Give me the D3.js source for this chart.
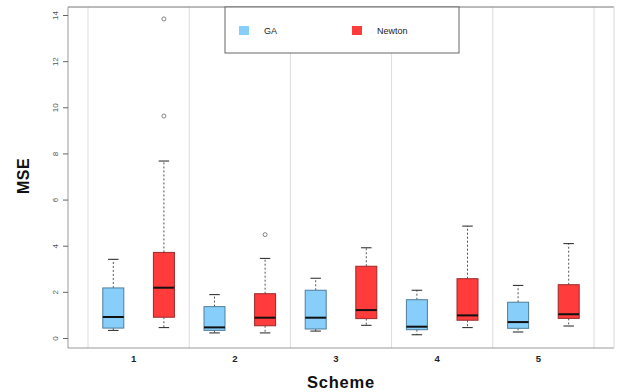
<!DOCTYPE html>
<html>
<head>
<meta charset="utf-8">
<script src="https://cdn.jsdelivr.net/npm/d3@7"></script>
<style>
  html, body { margin: 0; padding: 0; background: #fff; }
  svg { display: block; font-family: "Liberation Sans", Arial, sans-serif; }
</style>
</head>
<body>
<svg id="chart" width="622" height="392"></svg>
<script>
// Schemes on the x axis and the two fitting methods
const schemes = ["1", "2", "3", "4", "5"];
const methods = ["GA", "Newton"];
const methodColors = ["#87CEFA", "#FF3B3B"];
const yTicks = [0, 2, 4, 6, 8, 10, 12, 14];

// Box statistics per scheme: [lower whisker, Q1, median, Q3, upper whisker]
const gaStats = [
  [0.33, 0.43, 0.91, 2.17, 3.41],
  [0.22, 0.33, 0.46, 1.36, 1.88],
  [0.30, 0.39, 0.88, 2.07, 2.59],
  [0.14, 0.36, 0.49, 1.66, 2.07],
  [0.26, 0.42, 0.69, 1.55, 2.28]
];
const newtonStats = [
  [0.45, 0.90, 2.18, 3.71, 7.67],
  [0.22, 0.53, 0.88, 1.92, 3.45],
  [0.55, 0.84, 1.21, 3.11, 3.91],
  [0.45, 0.77, 0.98, 2.57, 4.85],
  [0.52, 0.85, 1.03, 2.31, 4.09]
];
// Outlying points per scheme
const gaOutliers = [[], [], [], [], []];
const newtonOutliers = [[13.83, 9.62], [4.48], [], [], []];

const statsByMethod = { GA: gaStats, Newton: newtonStats };
const outliersByMethod = { GA: gaOutliers, Newton: newtonOutliers };

const svg = d3.select("#chart");
const frame = { left: 68, right: 614, top: 7, bottom: 348 };

const x = d3.scaleBand().domain(schemes).range([88, 594]).padding(0);
const xSub = d3.scaleBand().domain(methods).range([0, x.bandwidth()]).padding(0);
const y = d3.scaleLinear().domain([0, 14]).range([338, 15]);
const color = d3.scaleOrdinal().domain(methods).range(methodColors);
const boxW = 21;

// Scheme separators
svg.append("g").selectAll("line")
  .data(schemes.concat(["end"]))
  .join("line")
  .attr("x1", (d, i) => i < schemes.length ? x(d) : x(schemes[schemes.length - 1]) + x.bandwidth())
  .attr("x2", (d, i) => i < schemes.length ? x(d) : x(schemes[schemes.length - 1]) + x.bandwidth())
  .attr("y1", frame.top).attr("y2", frame.bottom)
  .attr("stroke", "#dcdcdc").attr("stroke-width", 1);

// Plot frame
svg.append("line").attr("x1", frame.left).attr("x2", frame.right)
  .attr("y1", frame.top).attr("y2", frame.top).attr("stroke", "#777");
svg.append("line").attr("x1", frame.left).attr("x2", frame.right)
  .attr("y1", frame.bottom).attr("y2", frame.bottom).attr("stroke", "#999");
svg.append("line").attr("x1", frame.left).attr("x2", frame.left)
  .attr("y1", frame.top).attr("y2", frame.bottom).attr("stroke", "#999");
svg.append("line").attr("x1", frame.right).attr("x2", frame.right)
  .attr("y1", frame.top).attr("y2", frame.bottom).attr("stroke", "#d8d8d8");

// Y axis with rotated tick labels
const yAxis = svg.append("g")
  .attr("transform", `translate(${frame.left},0)`)
  .call(d3.axisLeft(y).tickValues(yTicks).tickSize(5).tickPadding(0).tickFormat(d3.format("d")));
yAxis.select(".domain").remove();
yAxis.selectAll(".tick line").attr("stroke", "#666");
yAxis.selectAll(".tick text")
  .attr("fill", "#555").attr("font-size", 8)
  .attr("text-anchor", "middle")
  .attr("dy", 0).attr("x", 0)
  .attr("transform", "translate(-13,0) rotate(-90)")
  .attr("dominant-baseline", "central");

// X axis labels
svg.append("g").selectAll("text")
  .data(schemes)
  .join("text")
  .attr("x", d => x(d) + x.bandwidth() / 2 - 5)
  .attr("y", 362)
  .attr("text-anchor", "middle")
  .attr("font-size", 9.5).attr("font-weight", "bold").attr("fill", "#222")
  .text(d => d);

// Axis titles
svg.append("text")
  .attr("x", 341).attr("y", 388)
  .attr("text-anchor", "middle")
  .attr("font-size", 16.5).attr("font-weight", "bold").attr("fill", "#111")
  .attr("letter-spacing", 0.8)
  .text("Scheme");
svg.append("text")
  .attr("transform", "translate(29,176) rotate(-90)")
  .attr("text-anchor", "middle")
  .attr("font-size", 16).attr("font-weight", "bold").attr("fill", "#111")
  .attr("letter-spacing", 0.5)
  .text("MSE");

// Boxes
const boxes = [];
schemes.forEach((s, i) => {
  methods.forEach(m => {
    const st = statsByMethod[m][i];
    boxes.push({
      scheme: s, method: m,
      lo: st[0], q1: st[1], med: st[2], q3: st[3], hi: st[4],
      outliers: outliersByMethod[m][i],
      cx: x(s) + xSub(m) + xSub.bandwidth() / 2
    });
  });
});

const g = svg.append("g").selectAll("g").data(boxes).join("g");

// Dashed whiskers
g.append("line")
  .attr("x1", d => d.cx).attr("x2", d => d.cx)
  .attr("y1", d => y(d.q3)).attr("y2", d => y(d.hi))
  .attr("stroke", "#555").attr("stroke-dasharray", "2,2");
g.append("line")
  .attr("x1", d => d.cx).attr("x2", d => d.cx)
  .attr("y1", d => y(d.q1)).attr("y2", d => y(d.lo))
  .attr("stroke", "#555").attr("stroke-dasharray", "2,2");
// Staples
g.append("line")
  .attr("x1", d => d.cx - boxW / 4).attr("x2", d => d.cx + boxW / 4)
  .attr("y1", d => y(d.hi)).attr("y2", d => y(d.hi))
  .attr("stroke", "#222");
g.append("line")
  .attr("x1", d => d.cx - boxW / 4).attr("x2", d => d.cx + boxW / 4)
  .attr("y1", d => y(d.lo)).attr("y2", d => y(d.lo))
  .attr("stroke", "#222");
// Box body
g.append("rect")
  .attr("x", d => d.cx - boxW / 2).attr("width", boxW)
  .attr("y", d => y(d.q3)).attr("height", d => y(d.q1) - y(d.q3))
  .attr("fill", d => color(d.method))
  .attr("stroke", d => d.method === "GA" ? "#4f7f9c" : "#9c2a2a")
  .attr("stroke-width", 1);
// Median
g.append("line")
  .attr("x1", d => d.cx - boxW / 2).attr("x2", d => d.cx + boxW / 2)
  .attr("y1", d => y(d.med)).attr("y2", d => y(d.med))
  .attr("stroke", "#111").attr("stroke-width", 2);
// Outliers
g.selectAll("circle")
  .data(d => d.outliers.map(v => ({ v, cx: d.cx })))
  .join("circle")
  .attr("cx", d => d.cx).attr("cy", d => y(d.v))
  .attr("r", 2).attr("fill", "none").attr("stroke", "#666").attr("stroke-width", 0.8);

// Legend
const legend = svg.append("g");
legend.append("rect")
  .attr("x", 225).attr("y", frame.top).attr("width", 234).attr("height", 46)
  .attr("fill", "#fff").attr("stroke", "#666").attr("stroke-width", 1);
const legendX = [239, 352];
methods.forEach((m, i) => {
  legend.append("rect")
    .attr("x", legendX[i]).attr("y", 26).attr("width", 10).attr("height", 9)
    .attr("fill", color(m));
  legend.append("text")
    .attr("x", legendX[i] + 25).attr("y", 31)
    .attr("dominant-baseline", "central")
    .attr("font-size", 9).attr("fill", "#222")
    .text(m);
});
</script>
</body>
</html>
